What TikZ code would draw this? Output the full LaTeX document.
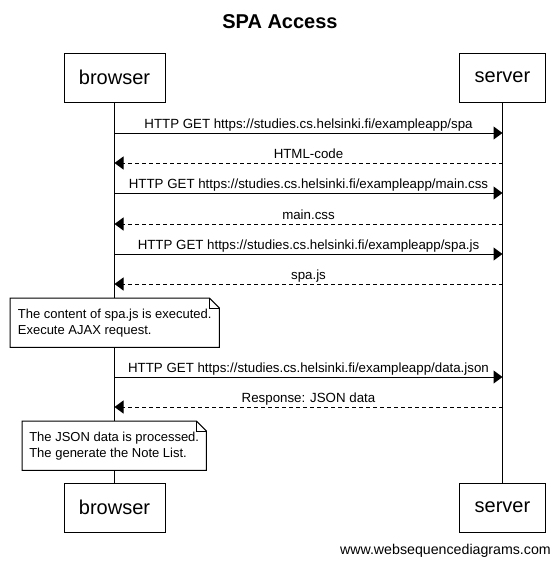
\documentclass[tikz,border=0pt]{standalone}
\usepackage{fontspec}
\setmainfont{Liberation Sans}
\usetikzlibrary{arrows.meta}
\tikzset{
  actor/.style={draw, line width=1pt, fill=white, minimum height=49pt,
    inner sep=0pt, font=\fontsize{20}{24}\selectfont},
  msg/.style={line width=1pt, -{Triangle[length=9pt,width=13pt]}},
  reply/.style={msg, dash pattern=on 4pt off 3pt},
  lbl/.style={inner sep=0pt, anchor=base, yshift=5pt,
    font=\fontsize{13.3}{15}\selectfont},
  note/.style={fill=white, inner xsep=6pt, inner ysep=0pt, align=left,
    minimum height=49pt, anchor=north west, font=\fontsize{13}{16}\selectfont},
}
\begin{document}
\begin{tikzpicture}[x=1pt,y=-1pt]
  \useasboundingbox (0,0) rectangle (560,566);
  \node[font=\bfseries\fontsize{20}{24}\selectfont] (title) at (280,22) {SPA Access};
  % participants
  \node[actor, minimum width=101pt] (btop) at (114.5,77.5) {browser};
  \node[actor, minimum width=86pt] (stop) at (502.5,77.5) {server};
  \node[actor, minimum width=101pt] (bbot) at (114.5,507.5) {browser};
  \node[actor, minimum width=86pt] (sbot) at (502.5,507.5) {server};
  \draw[line width=1pt] (btop.south) -- (bbot.north);
  \draw[line width=1pt] (stop.south) -- (sbot.north);
  % message rows on the lifelines
  \foreach \i/\y in {1/133,2/163,3/193,4/224,5/254,6/284,7/377,8/407}{
    \coordinate (b\i) at (btop.south |- 0,\y);
    \coordinate (s\i) at (stop.south |- 0,\y);
  }
  \draw[msg] (b1) -- node[lbl] {HTTP GET https://studies.cs.helsinki.fi/exampleapp/spa} (s1);
  \draw[reply] (s2) -- node[lbl] {HTML-code} (b2);
  \draw[msg] (b3) -- node[lbl] {HTTP GET https://studies.cs.helsinki.fi/exampleapp/main.css} (s3);
  \draw[reply] (s4) -- node[lbl] {main.css} (b4);
  \draw[msg] (b5) -- node[lbl] {HTTP GET https://studies.cs.helsinki.fi/exampleapp/spa.js} (s5);
  \draw[reply] (s6) -- node[lbl] {spa.js} (b6);
  \draw[msg] (b7) -- node[lbl] {HTTP GET https://studies.cs.helsinki.fi/exampleapp/data.json} (s7);
  \draw[reply] (s8) -- node[lbl] {Response: JSON data} (b8);
  % notes
  \node[note, minimum width=209pt] (n1) at (10,298)
    {The content of spa.js is executed.\\Execute AJAX request.};
  \node[note, minimum width=184pt] (n2) at (22,421)
    {The JSON data is processed.\\The generate the Note List.};
  \foreach \n in {n1,n2}{
    \draw[line width=1pt] (\n.north west) -- ([xshift=-10pt]\n.north east)
      -- ([yshift=-10pt]\n.north east) -- (\n.south east) -- (\n.south west) -- cycle;
    \draw[line width=0.6pt] ([xshift=-10pt]\n.north east) |- ([yshift=-10pt]\n.north east);
  }
  \node[anchor=east, inner sep=0pt, font=\fontsize{14.2}{16}\selectfont] (credit) at (551,551)
    {www.websequencediagrams.com};
\end{tikzpicture}
\end{document}
